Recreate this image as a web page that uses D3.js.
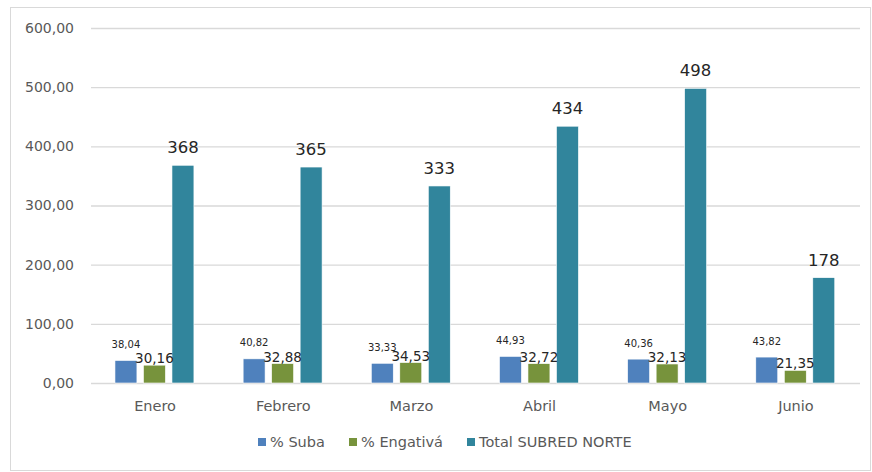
<!DOCTYPE html>
<html>
<head>
<meta charset="utf-8">
<script src="https://cdn.jsdelivr.net/npm/d3@7"></script>
<style>
  body { margin: 0; background: #fff; }
  text { font-family: "DejaVu Sans", sans-serif; }
</style>
</head>
<body>
<div id="chart"></div>
<script>
var months = ['Enero', 'Febrero', 'Marzo', 'Abril', 'Mayo', 'Junio']
var seriesNames = ['% Suba', '% Engativá', 'Total SUBRED NORTE']
var suba = [38.04, 40.82, 33.33, 44.93, 40.36, 43.82]
var engativa = [30.16, 32.88, 34.53, 32.72, 32.13, 21.35]
var total = [368, 365, 333, 434, 498, 178]
var yTicks = [0, 100, 200, 300, 400, 500, 600]
var colors = ['#4f81bd', '#77933c', '#31859c']

var width = 872, height = 472
var svg = d3.select('#chart').append('svg')
  .attr('width', width)
  .attr('height', height)

// outer frame
svg.append('rect')
  .attr('x', 10.5).attr('y', 7.5)
  .attr('width', 860).attr('height', 463)
  .attr('fill', '#fff').attr('stroke', '#d9d9d9')

var y = d3.scaleLinear().domain([0, 600]).range([383, 28])
var x0 = d3.scaleBand().domain(months).range([91, 860]).padding(0)
var x1 = d3.scaleBand().domain(seriesNames)
  .range([x0.bandwidth() * 0.187, x0.bandwidth() * 0.803])
  .paddingInner(0.23).paddingOuter(0)

// gridlines + y labels
var yAxis = d3.axisLeft(y).tickValues(yTicks)
  .tickSize(-(860 - 91))
  .tickFormat(function(d) { return d3.format('.2f')(d).replace('.', ',') })
var gy = svg.append('g').attr('transform', 'translate(91,0)').call(yAxis)
gy.select('.domain').remove()
gy.selectAll('.tick line').attr('stroke', '#d9d9d9').attr('stroke-width', 1.3)
gy.selectAll('.tick text')
  .attr('x', -17)
  .attr('fill', '#595959')
  .style('font-size', '14px')
  .style('font-family', '"DejaVu Sans", sans-serif')

// x labels
var xAxis = d3.axisBottom(x0).tickSize(0).tickPadding(18)
var gx = svg.append('g').attr('transform', 'translate(0,383)').call(xAxis)
gx.select('.domain').remove()
gx.selectAll('.tick text')
  .attr('fill', '#595959')
  .style('font-size', '14.5px')
  .style('font-family', '"DejaVu Sans", sans-serif')

var rows = months.map(function(m, i) {
  return {month: m, values: [suba[i], engativa[i], total[i]]}
})

var groups = svg.selectAll('.grp').data(rows).enter().append('g')
  .attr('class', 'grp')
  .attr('transform', function(d) { return 'translate(' + x0(d.month) + ',0)' })

groups.selectAll('rect').data(function(d) {
  return d.values.map(function(v, k) { return {name: seriesNames[k], v: v, k: k} })
}).enter().append('rect')
  .attr('x', function(d) { return x1(d.name) })
  .attr('y', function(d) { return y(d.v) })
  .attr('width', x1.bandwidth())
  .attr('height', function(d) { return y(0) - y(d.v) })
  .attr('fill', function(d) { return colors[d.k] })
  .attr('stroke', '#fff').attr('stroke-width', 0.6)

// value labels
var labelSize = ['10px', '13.5px', '16.5px']
var labelGap = [12.5, 2, 12]
groups.selectAll('.lbl').data(function(d) {
  return d.values.map(function(v, k) { return {name: seriesNames[k], v: v, k: k} })
}).enter().append('text')
  .attr('class', 'lbl')
  .attr('x', function(d) { return x1(d.name) + x1.bandwidth() / 2 })
  .attr('y', function(d) { return y(d.v) - labelGap[d.k] })
  .attr('text-anchor', 'middle')
  .attr('fill', '#262626')
  .style('font-size', function(d) { return labelSize[d.k] })
  .text(function(d) {
    return d.k == 2 ? d3.format('d')(d.v) : d3.format('.2f')(d.v).replace('.', ',')
  })

// legend
var legendX = [258, 349, 467]
var leg = svg.selectAll('.leg').data(seriesNames).enter().append('g')
  .attr('class', 'leg')
  .attr('transform', function(d, i) { return 'translate(' + legendX[i] + ',438)' })
leg.append('rect').attr('width', 8).attr('height', 8)
  .attr('fill', function(d, i) { return colors[i] })
leg.append('text')
  .attr('x', 12).attr('y', 9)
  .attr('fill', '#595959')
  .style('font-size', '14.5px')
  .text(function(d) { return d })
</script>
</body>
</html>
